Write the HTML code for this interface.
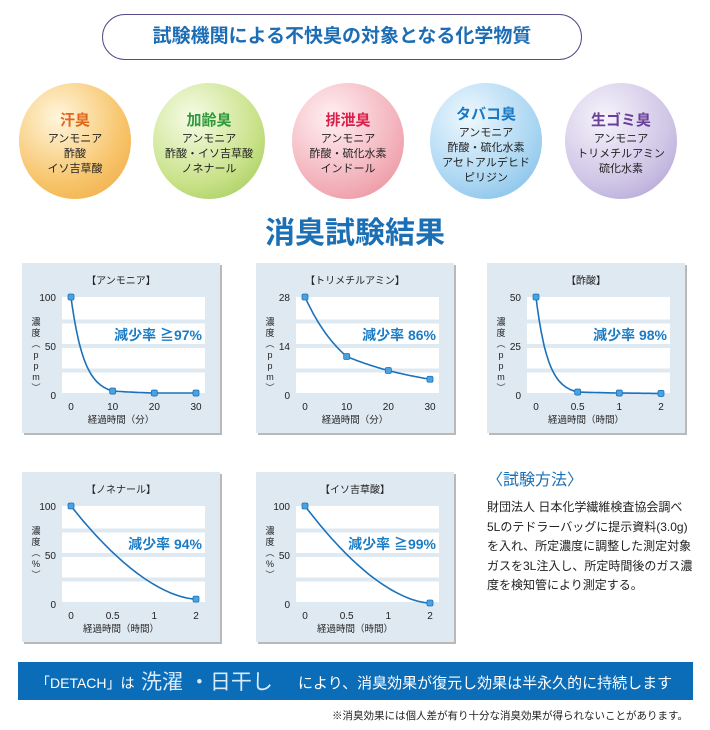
<!DOCTYPE html>
<html><head><meta charset="utf-8">
<style>
body{margin:0;width:710px;height:730px;background:#fff;position:relative;overflow:hidden;font-family:"Liberation Sans","Noto Sans CJK JP",sans-serif}
.abs{position:absolute}
.title-oval{left:102px;top:14px;width:480px;height:46px;border:1.5px solid #5a4a8a;border-radius:24px;box-sizing:border-box;text-align:center;line-height:43px;color:#1d6db5;font-weight:bold;font-size:19px}
.ball{width:112px;height:116px;border-radius:50%;text-align:center;font-size:11px;line-height:15px;color:#222;box-sizing:border-box;padding-top:28px}
.ball b{display:block;font-size:15px;line-height:20px;margin-bottom:1px}
.main-title{left:0;width:710px;top:208px;text-align:center;font-size:30px;font-weight:bold;color:#1a6fb5}
</style></head><body>
<div class="abs title-oval">試験機関による不快臭の対象となる化学物質</div>

<div class="abs ball" style="left:19px;top:83px;background:radial-gradient(circle at 35% 30%,#fff6dc,#f7c46a 60%,#eea640)"><b style="color:#e2661a">汗臭</b>アンモニア<br>酢酸<br>イソ吉草酸</div>
<div class="abs ball" style="left:153px;top:83px;background:radial-gradient(circle at 35% 30%,#f6fbe6,#c9e289 60%,#98c650)"><b style="color:#2e9a3a">加齢臭</b>アンモニア<br>酢酸・イソ吉草酸<br>ノネナール</div>
<div class="abs ball" style="left:292px;top:83px;background:radial-gradient(circle at 35% 30%,#fff0f2,#f3b3bc 60%,#e98893)"><b style="color:#d8204a">排泄臭</b>アンモニア<br>酢酸・硫化水素<br>インドール</div>
<div class="abs ball" style="left:430px;top:83px;padding-top:22px;background:radial-gradient(circle at 35% 30%,#eef8fe,#aad6f2 60%,#76b8e6)"><b style="color:#1b78c4">タバコ臭</b>アンモニア<br>酢酸・硫化水素<br>アセトアルデヒド<br>ピリジン</div>
<div class="abs ball" style="left:565px;top:83px;background:radial-gradient(circle at 35% 30%,#f6f3fb,#cfc5e6 60%,#a99bd0)"><b style="color:#6a3f98">生ゴミ臭</b>アンモニア<br>トリメチルアミン<br>硫化水素</div>

<div class="abs main-title">消臭試験結果</div>

<svg class="abs" style="left:0;top:0" width="710" height="730" id="charts"></svg>

<div class="abs" style="left:487px;top:466px;font-size:16px;color:#1a6fb5">〈試験方法〉</div>
<div class="abs" style="left:487px;top:498px;font-size:12px;line-height:19.5px;color:#222;width:210px">財団法人 日本化学繊維検査協会調べ<br>5Lのテドラーバッグに提示資料(3.0g)<br>を入れ、所定濃度に調整した測定対象<br>ガスを3L注入し、所定時間後のガス濃<br>度を検知管により測定する。</div>

<div class="abs" style="left:18px;top:662px;width:675px;height:38px;background:#0b6cb8;color:#fff">
<span class="abs" style="left:18px;top:11px;font-size:14px">「DETACH」は</span>
<span class="abs" style="left:123px;top:4px;font-size:21px;color:#d6ebfb">洗濯 ・日干し</span>
<span class="abs" style="left:280px;top:10px;font-size:15px">により、消臭効果が復元し効果は半永久的に持続します</span>
</div>
<div class="abs" style="right:22px;top:708px;font-size:10.5px;color:#222">※消臭効果には個人差が有り十分な消臭効果が得られないことがあります。</div>

<script>
const titles=["【アンモニア】","【トリメチルアミン】","【酢酸】","【ノネナール】","【イソ吉草酸】"];
const rates=["減少率 ≧97%","減少率 86%","減少率 98%","減少率 94%","減少率 ≧99%"];
const yMaxes=[100,28,50,100,100];
const yTicks=[[0,50,100],[0,14,28],[0,25,50],[0,50,100],[0,50,100]];
const xLabels=[["0","10","20","30"],["0","10","20","30"],["0","0.5","1","2"],["0","0.5","1","2"],["0","0.5","1","2"]];
const pointIdx=[[0,1,2,3],[0,1,2,3],[0,1,2,3],[0,3],[0,3]];
const values=[[100,4,2,2],[28,11,7,4.5],[50,1.5,1,0.8],[100,5],[100,1]];
const yUnits=["濃度（ppm）","濃度（ppm）","濃度（ppm）","濃度（%）","濃度（%）"];
const xTitles=["経過時間（分）","経過時間（分）","経過時間（時間）","経過時間（時間）","経過時間（時間）"];
const panelPos=[[22,263],[256,263],[487,263],[22,472],[256,472]];

const NS="http://www.w3.org/2000/svg";
const svg=document.getElementById('charts');
function mk(tag,attrs,parent){const e=document.createElementNS(NS,tag);for(const k in attrs)e.setAttribute(k,attrs[k]);(parent||svg).appendChild(e);return e;}
function txt(s,x,y,size,fill,anchor,weight){const t=mk('text',{x:x,y:y,'font-size':size,fill:fill,'text-anchor':anchor||'middle','font-weight':weight||'normal','font-family':'"Liberation Sans","Noto Sans CJK JP",sans-serif'});t.textContent=s;return t;}

titles.forEach((title,i)=>{
  const [px,py]=panelPos[i];
  const g=mk('g',{});
  
  
  mk('rect',{x:px+2,y:py+2,width:198,height:170,fill:'#b9b9b9'},g);
  mk('rect',{x:px,y:py,width:198,height:170,fill:'#dfe9f2'},g);
  const L=px+40,R=px+183,T=py+34,B=py+132;
  const xs=k=>L+9+k*(R-L-18)/3;
  const ys=v=>B-v/yMaxes[i]*(B-T);
  for(let q=0;q<4;q++){const y0=T+q*(B-T)/4;mk('rect',{x:L,y:y0+(q?2:0),width:R-L,height:(B-T)/4-(q?2:0)-2,fill:'#fff'},g);}
  g.appendChild(txt(title,px+99,py+21,10,'#222'));
  yTicks[i].forEach(v=>{g.appendChild(txt(String(v),L-6,ys(v)+4,10,'#222','end'));});
  xLabels[i].forEach((s,k)=>{g.appendChild(txt(s,xs(k),B+15,10,'#222'));});
  g.appendChild(txt(xTitles[i],px+99,py+160,9.5,'#222'));
  const chars=[...yUnits[i]];
  chars.forEach((c,k)=>{g.appendChild(txt(c==='（'?'︵':c==='）'?'︶':c,px+14,py+62+k*11,9,'#222'));});
  const rt=txt(rates[i],R-3,py+77,14,'#1a7cc6','end','bold');g.appendChild(rt);
  
  
  const idx=pointIdx[i],vals=values[i];
  let d='';
  for(let s=0;s<idx.length-1;s++){
    const a=Math.max(vals[s],0.01),b=Math.max(vals[s+1],0.01);
    const twoPt=idx.length===2;
    for(let j=0;j<=40;j++){
      const f=j/40;const k=idx[s]+f*(idx[s+1]-idx[s]);
      const v=twoPt? b+(a-b)*Math.pow(1-f,1.7) : a*Math.pow(b/a,f);
      d+=(d?'L':'M')+xs(k).toFixed(1)+','+ys(v).toFixed(1);
    }
  }
  const path=mk('path',{d:d,fill:'none',stroke:'#1a72bb','stroke-width':1.6},g);
  
  
  idx.forEach((k,j)=>{
    const c=mk('rect',{x:xs(k)-3,y:ys(vals[j])-3,width:6,height:6,rx:1.5,fill:'#4aa3e0',stroke:'#1a72bb','stroke-width':0.8},g);
    
    
  });
});
</script>
</body></html>
